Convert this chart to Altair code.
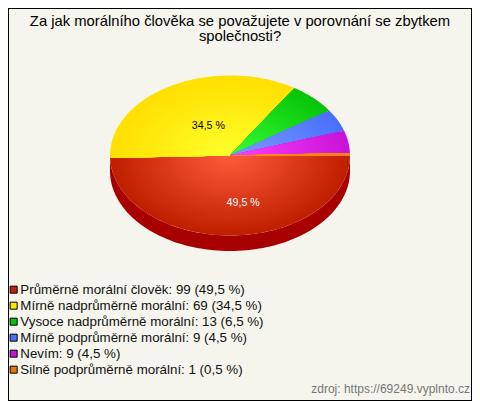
import math
import altair as alt
import pandas as pd

categories = ["Průměrně morální člověk", "Mírně nadprůměrně morální", "Vysoce nadprůměrně morální",
              "Mírně podprůměrně morální", "Nevím", "Silně podprůměrně morální"]
counts = [99, 69, 13, 9, 9, 1]
percent_text = ["49,5", "34,5", "6,5", "4,5", "4,5", "0,5"]
legend_colors = ["#c42200", "#ffe600", "#0cc00c", "#4a70ff", "#c814d8", "#e87800"]
center_colors = ["#ff5c3c", "#ffff2c", "#38ff38", "#7c9cff", "#ff40ff", "#ff9020"]
edge_colors = ["#c02000", "#ffe000", "#08c408", "#4a70ff", "#c814d8", "#ff8010"]
wall_color = "#a80000"
title_lines = ["Za jak morálního člověka se považujete v porovnání se zbytkem", "společnosti?"]
source_text = "zdroj: https://69249.vyplnto.cz"

BG = "#f5f5ee"
W, H = 464, 393
DEPTH = 15.5 / 80
X_SCALE = alt.Scale(domain=[-1, 1], range=[102, 342])
Y_SCALE = alt.Scale(domain=[-1, 1], range=[227.5, 67.5])
total = sum(counts)
labels = [f"{c}: {n} ({p} %)" for c, n, p in zip(categories, counts, percent_text)]


def mix(a, b, t):
    pa = [int(a[i:i + 2], 16) for i in (1, 3, 5)]
    pb = [int(b[i:i + 2], 16) for i in (1, 3, 5)]
    return "#%02x%02x%02x" % tuple(round(x + (y - x) * t) for x, y in zip(pa, pb))


rows = []
RINGS = 30
start = 0.0
gid = 0
for i, n in enumerate(counts):
    end = start + n / total * 360
    steps = max(2, int((end - start) / 2))
    for k in range(RINGS):
        r = 1 - k / RINGS
        fill = mix(center_colors[i], edge_colors[i], r)
        gid += 1
        rows.append(dict(g=gid, o=0, x=0, y=0, f=fill))
        for s in range(steps + 1):
            a = math.radians(start + (end - start) * s / steps)
            rows.append(dict(g=gid, o=s + 1, x=r * math.cos(a), y=-r * math.sin(a), f=fill))
    start = end

wall = []
o = 0
for d in range(0, 181, 2):
    a = math.radians(d)
    wall.append(dict(g=0, o=o, x=math.cos(a), y=-math.sin(a) - DEPTH, f=wall_color))
    o += 1
for d in range(180, -1, -2):
    a = math.radians(d)
    wall.append(dict(g=0, o=o, x=math.cos(a), y=-math.sin(a), f=wall_color))
    o += 1

pie_df = pd.DataFrame(wall + rows)

pie = alt.Chart(pie_df).mark_line(strokeWidth=0, clip=False).encode(
    x=alt.X("x:Q", scale=X_SCALE, axis=None),
    y=alt.Y("y:Q", scale=Y_SCALE, axis=None),
    detail="g:N",
    order="o:Q",
    fill=alt.Fill("f:N", scale=None),
)

label_df = pd.DataFrame([
    dict(t=percent_text[0] + " %", x=0.11, y=-0.59, c="white"),
    dict(t=percent_text[1] + " %", x=-0.18, y=0.365, c="black"),
])
pct = alt.Chart(label_df).mark_text(font="Liberation Sans", fontSize=10.67).encode(
    x=alt.X("x:Q", scale=X_SCALE, axis=None),
    y=alt.Y("y:Q", scale=Y_SCALE, axis=None),
    text="t:N",
    fill=alt.Fill("c:N", scale=None),
)

legend_df = pd.DataFrame({"label": labels})
legend = alt.Chart(legend_df).mark_square(size=0, opacity=1).encode(
    x=alt.value(0),
    y=alt.value(0),
    color=alt.Color(
        "label:N",
        sort=labels,
        scale=alt.Scale(domain=labels, range=legend_colors),
        legend=alt.Legend(
            title=None, orient="none", legendX=-1, legendY=275, symbolType="square",
            symbolSize=49, symbolStrokeColor="black", symbolStrokeWidth=1, symbolOpacity=1,
            labelFont="Liberation Sans", labelFontSize=13.33, labelColor="#111111",
            labelLimit=400, rowPadding=2, labelOffset=0, padding=0,
        ),
    ),
)

src = alt.Chart(pd.DataFrame({"t": [source_text]})).mark_text(
    font="Liberation Sans", fontSize=12, color="#777777", align="right", baseline="alphabetic"
).encode(x=alt.value(462), y=alt.value(385), text="t:N")

one = pd.DataFrame({"a": [0]})
edge_l = alt.Chart(one).mark_rule(color="black").encode(x=alt.value(0.5), y=alt.value(0), y2=alt.value(H))
edge_r = alt.Chart(one).mark_rule(color="black").encode(x=alt.value(W - 0.5), y=alt.value(0), y2=alt.value(H))
edge_t = alt.Chart(one).mark_rule(color="black").encode(y=alt.value(0.5), x=alt.value(0), x2=alt.value(W))
edge_b = alt.Chart(one).mark_rule(color="black").encode(y=alt.value(H - 0.5), x=alt.value(0), x2=alt.value(W))

chart = alt.layer(pie, pct, legend, src, edge_l, edge_r, edge_t, edge_b).properties(
    width=W, height=H, padding=0, background=BG, autosize=alt.AutoSizeParams(type="none"),
    title=alt.TitleParams(
        title_lines, font="Liberation Sans", fontSize=14.8, fontWeight="normal", color="black",
        anchor="middle", frame="group", offset=-36, lineHeight=14.5,
    ),
).configure_view(stroke=None)

chart.save("out.html", embed_options={"renderer": "svg", "actions": False})
